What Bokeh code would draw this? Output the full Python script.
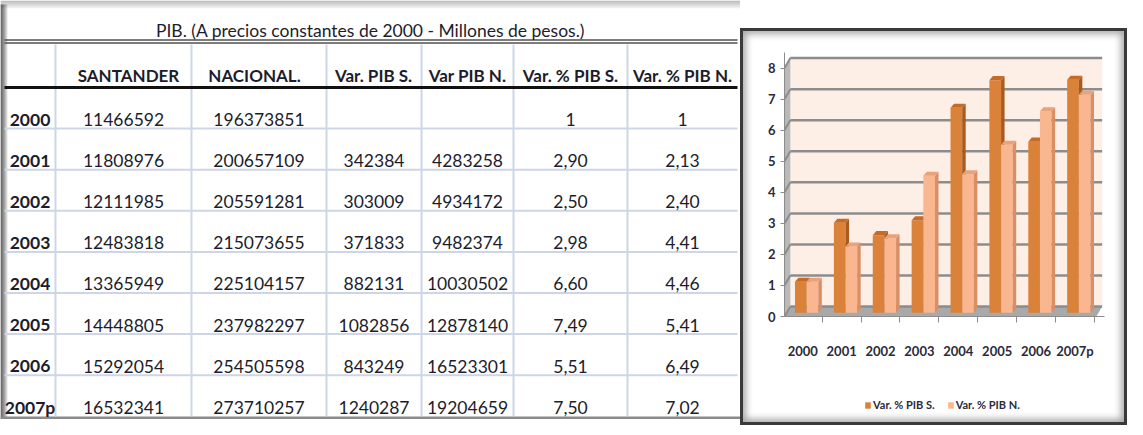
from bokeh.plotting import figure
from bokeh.models import Range1d, Legend, LegendItem, FixedTicker, Spacer
from bokeh.layouts import row, column
from bokeh.embed import file_html
from bokeh.resources import INLINE
from bokeh.core.properties import value

# ---------------- data ----------------
title = "PIB. (A precios constantes de 2000 - Millones de pesos.)"
headers = ["", "SANTANDER", "NACIONAL.", "Var. PIB S.", "Var PIB N.", "Var. % PIB S.", "Var. % PIB N."]
years = ["2000", "2001", "2002", "2003", "2004", "2005", "2006", "2007p"]
santander = [11466592, 11808976, 12111985, 12483818, 13365949, 14448805, 15292054, 16532341]
nacional = [196373851, 200657109, 205591281, 215073655, 225104157, 237982297, 254505598, 273710257]
var_s = [None, 342384, 303009, 371833, 882131, 1082856, 843249, 1240287]
var_n = [None, 4283258, 4934172, 9482374, 10030502, 12878140, 16523301, 19204659]
pct_s = [1, 2.90, 2.50, 2.98, 6.60, 7.49, 5.51, 7.50]
pct_n = [1, 2.13, 2.40, 4.41, 4.46, 5.41, 6.49, 7.02]
y_ticks = [0, 1, 2, 3, 4, 5, 6, 7, 8]

FONT = "Lato"
TXT = "#1c1c2c"
S_FACE, S_SIDE, S_TOP = "#da823a", "#a95b1e", "#c46b28"
N_FACE, N_SIDE, N_TOP = "#fab68e", "#d98f66", "#e9a27a"


def fmt_int(v):
    return "" if v is None else str(v)


def fmt_pct(v):
    return str(int(v)) if float(v).is_integer() else f"{v:.2f}".replace(".", ",")


# ---------------- table figure (data coords = page pixels) ----------------
T = figure(width=740, height=419, x_range=Range1d(8, 748), y_range=Range1d(427, 8),
           x_axis_type=None, y_axis_type=None, toolbar_location=None, output_backend="svg",
           min_border=0, outline_line_color=None,
           background_fill_color="white", border_fill_color="white")

# shadows of the panel
for k in range(8):
    T.quad(left=8, right=748, top=8 + k, bottom=9 + k, fill_color="#6a6a6a",
           fill_alpha=0.5 * (1 - k / 8), line_color=None)
for k in range(7):
    T.quad(left=8 + k, right=9 + k, top=12, bottom=427, fill_color="#2e2e2e",
           fill_alpha=0.95 * (1 - k / 7), line_color=None)
T.quad(left=8, right=748, top=424, bottom=427, fill_color="#8a8a8a", line_color=None)

COLS = [12, 63, 199, 334, 429, 521, 635, 745]
ROW0, RH = 95, 41.1
nrow = len(years)
row_tops = [ROW0 + RH * i for i in range(nrow + 1)]
centers = [(COLS[j] + COLS[j + 1]) / 2 for j in range(len(COLS) - 1)]

# grid lines
vx = COLS[1:-1]
T.segment(x0=vx, y0=[52] * len(vx), x1=vx, y1=[row_tops[-1]] * len(vx),
          line_color="#cdd5e6", line_width=2)
hy = row_tops[1:-1]
T.segment(x0=[12] * len(hy), y0=hy, x1=[745] * len(hy), y1=hy,
          line_color="#cdd5e6", line_width=2)
T.segment(x0=[12, 12], y0=[47.5, 50.5], x1=[745, 745], y1=[47.5, 50.5],
          line_color="#505050", line_width=1.6)
T.segment(x0=[12], y0=[95], x1=[745], y1=[95], line_color="#111111", line_width=3)

# title and headers
T.text(x=[378], y=[38], text=[title], text_font=value(FONT), text_font_size="17.5px",
       text_align="center", text_baseline="alphabetic", text_color=TXT)
T.text(x=[136, 262, 381, 475, 578, 690], y=[83] * 6, text=headers[1:], text_font=value(FONT),
       text_font_size="17px", text_font_style="bold", text_align="center",
       text_baseline="alphabetic", text_color=TXT)

# body
base_y = [row_tops[i] + 32 for i in range(nrow)]
T.text(x=[centers[0]] * nrow, y=base_y, text=years, text_font=value(FONT),
       text_font_size="17.5px", text_font_style="bold", text_align="center",
       text_baseline="alphabetic", text_color=TXT)
cols_txt = [
    [fmt_int(v) for v in santander],
    [fmt_int(v) for v in nacional],
    [fmt_int(v) for v in var_s],
    [fmt_int(v) for v in var_n],
    [fmt_pct(v) for v in pct_s],
    [fmt_pct(v) for v in pct_n],
]
for j, txts in enumerate(cols_txt):
    T.text(x=[centers[j + 1]] * nrow, y=base_y, text=txts, text_font=value(FONT),
           text_font_size="17.5px", text_align="center", text_baseline="alphabetic",
           text_color=TXT)

# ---------------- chart figure ----------------
C = figure(width=381, height=330, x_range=Range1d(0.03, 8.26), y_range=Range1d(0, 8.5),
           toolbar_location=None, output_backend="svg",
           min_border_left=41, min_border_right=20, min_border_top=21, min_border_bottom=43,
           background_fill_color="white", border_fill_color=None, outline_line_color=None)
C.grid.visible = False

WX0, WX1, WD = 0.18, 8.2, 0.32   # back wall extent and depth offset
x_left = 0.03
C.quad(left=WX0, right=WX1, bottom=WD, top=8 + WD, fill_color="#fdeee6", line_color=None)
C.patch(x=[x_left, WX0, WX0, x_left], y=[0, WD, 8 + WD, 8], fill_color="#b9b9b9",
        line_color=None)
C.patch(x=[x_left, WX1 - (WX0 - x_left), WX1, WX0], y=[0, 0, WD, WD],
        fill_color="#a9a9a9", line_color=None)
C.segment(x0=[WX0] * len(y_ticks), y0=[t + WD for t in y_ticks], x1=[WX1] * len(y_ticks),
          y1=[t + WD for t in y_ticks], line_color="#8c8c8c", line_width=2.5)
C.segment(x0=[x_left] * len(y_ticks), y0=y_ticks, x1=[WX0] * len(y_ticks),
          y1=[t + WD for t in y_ticks], line_color="#8c8c8c", line_width=2)

cx = [i + 0.5 for i in range(len(years))]
BASE, DX, DY = 0.12, 0.09, 0.13


def draw_bars(vals, o0, o1, face, side, topc):
    left = [c + o0 for c in cx]
    right = [c + o1 for c in cx]
    tops = [v + BASE for v in vals]
    C.quad(left=left, right=right, bottom=[BASE] * len(vals), top=tops,
           fill_color=face, line_color=None)
    C.patches(xs=[[rr, rr + DX, rr + DX, rr] for rr in right],
              ys=[[BASE, BASE + DY, t + DY, t] for t in tops],
              fill_color=side, line_color=None)
    C.patches(xs=[[ll, rr, rr + DX, ll + DX] for ll, rr in zip(left, right)],
              ys=[[t, t, t + DY, t + DY] for t in tops],
              fill_color=topc, line_color=None)


draw_bars(pct_s, -0.2, 0.1, S_FACE, S_SIDE, S_TOP)
draw_bars(pct_n, 0.1, 0.4, N_FACE, N_SIDE, N_TOP)

C.yaxis.ticker = FixedTicker(ticks=y_ticks)
C.yaxis.axis_line_color = "#8c8c8c"
C.yaxis.major_tick_line_color = "#8c8c8c"
C.yaxis.major_tick_out = 4
C.yaxis.major_tick_in = 0
C.yaxis.minor_tick_line_color = None
C.yaxis.major_label_text_font = FONT
C.yaxis.major_label_text_font_style = "bold"
C.yaxis.major_label_text_font_size = "13px"
C.yaxis.major_label_text_color = "#2a2a3a"
C.yaxis.major_label_standoff = 5

C.xaxis.ticker = FixedTicker(ticks=cx, minor_ticks=list(range(len(years) + 1)))
C.xaxis.major_label_overrides = {c: y for c, y in zip(cx, years)}
C.xaxis.axis_line_color = "#8c8c8c"
C.xaxis.major_tick_line_color = None
C.xaxis.minor_tick_line_color = "#8c8c8c"
C.xaxis.minor_tick_out = 6
C.xaxis.minor_tick_in = 0
C.xaxis.major_label_text_font = FONT
C.xaxis.major_label_text_font_style = "bold"
C.xaxis.major_label_text_font_size = "13px"
C.xaxis.major_label_text_color = "#2a2a3a"
C.xaxis.major_label_standoff = 20

# ---------------- legend strip under the chart ----------------
L = figure(width=381, height=61, x_range=Range1d(0, 1), y_range=Range1d(0, 1),
           x_axis_type=None, y_axis_type=None, toolbar_location=None, output_backend="svg",
           min_border=0, outline_line_color=None,
           background_fill_color=None, border_fill_color=None)
# zero-area keys: they only lend their colours to the legend swatches
key_s = L.quad(left=[0], right=[0], top=[0], bottom=[0], fill_color=S_FACE, line_color=None)
key_n = L.quad(left=[0], right=[0], top=[0], bottom=[0], fill_color=N_FACE, line_color=None)
legend = Legend(items=[LegendItem(label=headers[5], renderers=[key_s]),
                       LegendItem(label=headers[6], renderers=[key_n])],
                orientation="horizontal", location=(80, 11),
                label_text_font=FONT, label_text_font_size="11px",
                label_text_font_style="bold", label_text_color="#2a2a3a",
                glyph_width=7, glyph_height=8, spacing=12, label_standoff=2,
                padding=4, margin=0, label_height=12,
                border_line_color=None, background_fill_alpha=0)
L.add_layout(legend)

panel = column(C, L, styles={"border": "3px solid #3a3a3a", "box-sizing": "border-box",
                             "box-shadow": "inset 0 0 7px 3px #a8a8a8"})
right = column(Spacer(width=387, height=28), panel)
layout = row(T, right)

open("out.html", "w").write(file_html(layout, INLINE))
